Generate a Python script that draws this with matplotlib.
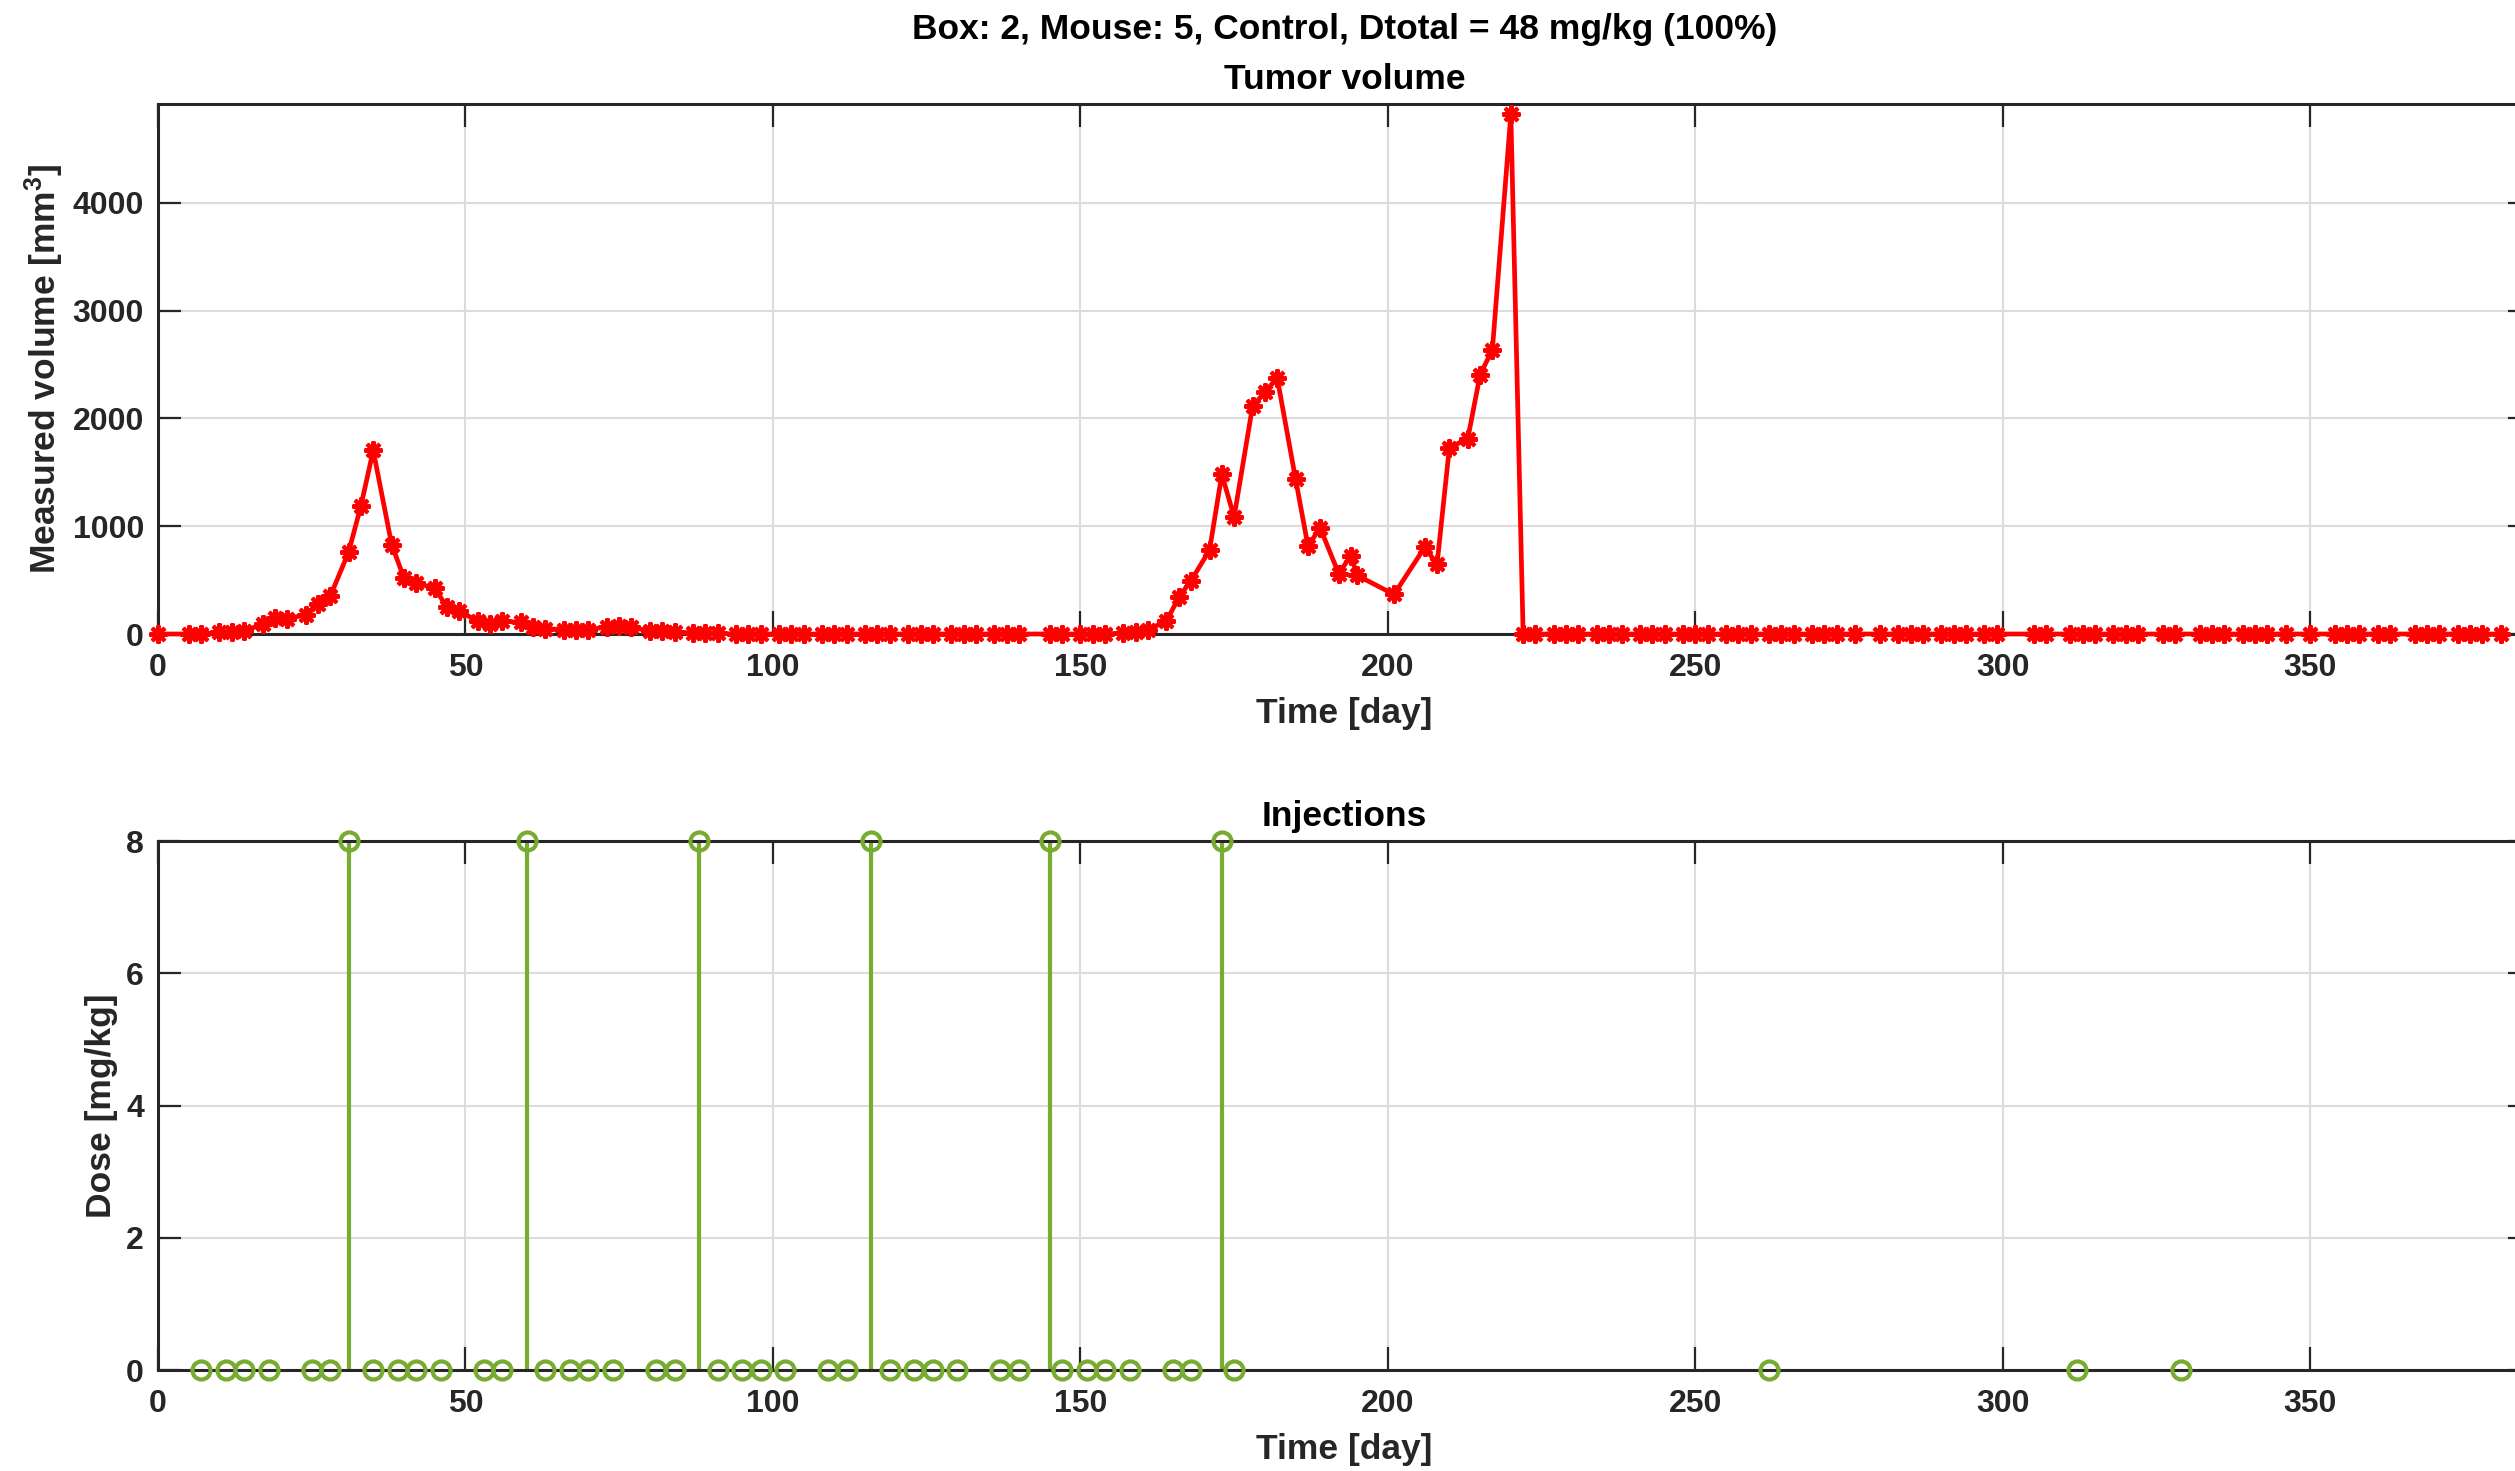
import matplotlib
matplotlib.use("Agg")
import matplotlib.pyplot as plt

# ---------------- data ----------------
vol_days = [0, 5, 7, 10, 12, 14, 17, 19, 21, 24, 26, 28, 31, 33, 35, 38, 40, 42, 45, 47, 49,
            52, 54, 56, 59, 61, 63, 66, 68, 70, 73, 75, 77, 80, 82, 84, 87, 89, 91,
            94, 96, 98, 101, 103, 105, 108, 110, 112, 115, 117, 119, 122, 124, 126,
            129, 131, 133, 136, 138, 140, 145, 147, 150, 152, 154,
            157, 159, 161, 164, 166, 168, 171, 173, 175, 178, 180, 182, 185, 187, 189,
            192, 194, 195, 201, 206, 208, 210, 213, 215, 217, 220,
            222, 224, 227, 229, 231, 234, 236, 238, 241, 243, 245, 248, 250, 252,
            255, 257, 259, 262, 264, 266, 269, 271, 273, 276, 280, 283, 285, 287,
            290, 292, 294, 297, 299, 305, 307, 311, 313, 315, 318, 320, 322, 326, 328,
            332, 334, 336, 339, 341, 343, 346, 350, 354, 356, 358, 361, 363, 367, 369,
            371, 374, 376, 378, 381]
vol_values = [0, 0, 0, 15, 20, 25, 92, 144, 140, 178, 281, 349, 760, 1188, 1702, 829, 520, 469,
              428, 246, 212, 119, 92, 119, 108, 68, 50, 40, 40, 40, 65, 70, 65, 25, 25, 20, 8, 8, 5,
              0, 0, 0, 0, 0, 0, 0, 0, 0, 0, 0, 0, 0, 0, 0,
              0, 0, 0, 0, 0, 0, 0, 0, 0, 0, 0,
              10, 20, 40, 120, 339, 496, 777, 1480, 1085, 2113, 2240, 2377, 1435, 818, 983,
              561, 726, 544, 367, 805, 647, 1726, 1812, 2404, 2637, 4819,
              0, 0, 0, 0, 0, 0, 0, 0, 0, 0, 0, 0, 0, 0,
              0, 0, 0, 0, 0, 0, 0, 0, 0, 0, 0, 0, 0, 0,
              0, 0, 0, 0, 0, 0, 0, 0, 0, 0, 0, 0, 0, 0, 0,
              0, 0, 0, 0, 0, 0, 0, 0, 0, 0, 0, 0, 0, 0, 0,
              0, 0, 0, 0, 0]

inj_days = [7, 11, 14, 18, 25, 28, 31, 35, 39, 42, 46, 53, 56, 60, 63, 67, 70, 74, 81, 84,
            88, 91, 95, 98, 102, 109, 112, 116, 119, 123, 126, 130, 137, 140, 145, 147, 151,
            154, 158, 165, 168, 173, 175, 262, 312, 329]
inj_dose = [0, 0, 0, 0, 0, 0, 8, 0, 0, 0, 0, 0, 0, 8, 0, 0, 0, 0, 0, 0,
            8, 0, 0, 0, 0, 0, 0, 8, 0, 0, 0, 0, 0, 0, 8, 0, 0,
            0, 0, 0, 0, 8, 0, 0, 0, 0]

x_ticks = [0, 50, 100, 150, 200, 250, 300, 350]
vol_ticks = [0, 1000, 2000, 3000, 4000]
dose_ticks = [0, 2, 4, 6, 8]

suptitle_text = "Box: 2, Mouse: 5, Control, Dtotal = 48 mg/kg (100%)"

# ---------------- style ----------------
plt.rcParams['font.family'] = ['Liberation Sans', 'DejaVu Sans']
plt.rcParams['font.weight'] = 'bold'
plt.rcParams['mathtext.fontset'] = 'custom'
plt.rcParams['mathtext.rm'] = 'Liberation Sans:bold'
plt.rcParams['mathtext.default'] = 'rm'

DARK = '#262626'
GRID = '#dcdcdc'
RED = '#ff0000'
GREEN = '#77ac30'
TICK_FS = 23
LABEL_FS = 25.5
TITLE_FS = 25.5

W, H = 2515, 1471
fig = plt.figure(figsize=(W / 100, H / 100), dpi=100)

# the axes run slightly past the right edge of the figure (as in the reference)
AX_LEFT_PX, AX_RIGHT_PX = 158, 2531
left = AX_LEFT_PX / W
width = (AX_RIGHT_PX - AX_LEFT_PX) / W
ax1 = fig.add_axes([left, 1 - 634 / H, width, (634 - 104) / H])
ax2 = fig.add_axes([left, 1 - 1370 / H, width, (1370 - 841) / H])

XMAX = 385.9


def style_axes(ax):
    ax.set_xlim(0, XMAX)
    ax.set_xticks(x_ticks)
    for s in ax.spines.values():
        s.set_color(DARK)
        s.set_linewidth(2.2)
    ax.tick_params(direction='in', length=16.5, width=1.6, color=DARK,
                   top=True, right=True, labelsize=TICK_FS, labelcolor=DARK)
    ax.tick_params(axis='x', pad=14)
    ax.tick_params(axis='y', pad=10)
    ax.grid(True, color=GRID, linewidth=1.5)
    ax.set_axisbelow(True)
    for lab in ax.get_xticklabels() + ax.get_yticklabels():
        lab.set_fontweight('bold')


# ---------------- top: tumor volume ----------------
ax1.plot(vol_days, vol_values, color=RED, linewidth=3.4,
         marker=(8, 2, 0), markersize=13, markeredgewidth=2.9,
         markeredgecolor=RED, clip_on=False, zorder=3)
style_axes(ax1)
ax1.set_ylim(0, 4915)
ax1.set_yticks(vol_ticks)
ax1.set_xlabel('Time [day]', fontsize=LABEL_FS, fontweight='bold', color=DARK, labelpad=10)
ax1.set_ylabel('Measured volume [mm$^3$]', fontsize=LABEL_FS, fontweight='bold',
               color=DARK, labelpad=5)
ax1.set_title('Tumor volume', fontsize=TITLE_FS, fontweight='bold', color='black', pad=10.5)

# ---------------- bottom: injections ----------------
markerline, stemlines, baseline = ax2.stem(inj_days, inj_dose)
plt.setp(stemlines, color=GREEN, linewidth=3.0, clip_on=False)
plt.setp(markerline, color=GREEN, marker='o', markersize=13, markeredgewidth=3.0,
         markerfacecolor='none', markeredgecolor=GREEN, clip_on=False, zorder=4)
baseline.set_visible(False)
style_axes(ax2)
ax2.set_ylim(0, 8)
ax2.set_yticks(dose_ticks)
ax2.set_xlabel('Time [day]', fontsize=LABEL_FS, fontweight='bold', color=DARK, labelpad=10)
ax2.set_ylabel('Dose [mg/kg]', fontsize=LABEL_FS, fontweight='bold', color=DARK, labelpad=6)
ax2.set_title('Injections', fontsize=TITLE_FS, fontweight='bold', color='black', pad=10.5)

fig.text(0.5 * (AX_LEFT_PX + AX_RIGHT_PX) / W, 1 - 29 / H, suptitle_text,
         ha='center', va='center', fontsize=TITLE_FS, fontweight='bold', color='black')

fig.savefig('out.png', dpi=100)
